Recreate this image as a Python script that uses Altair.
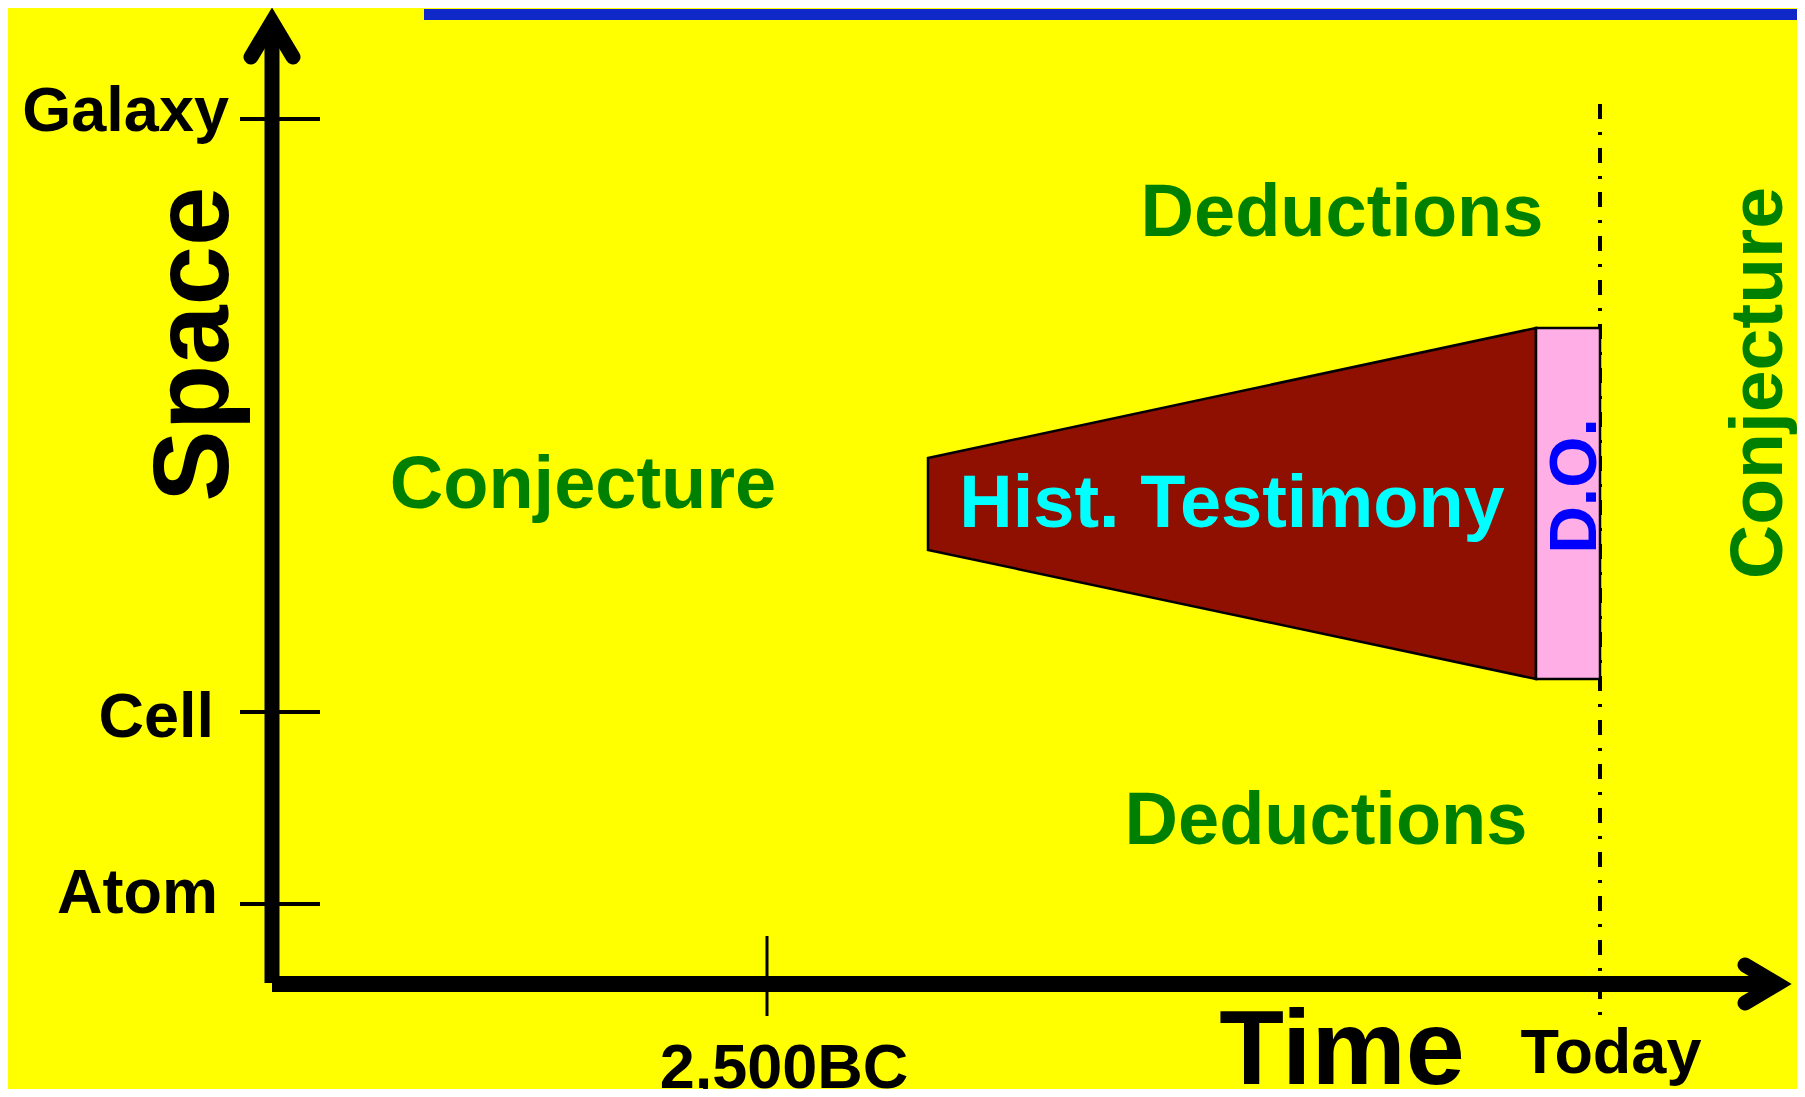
import altair as alt
import pandas as pd

# ---- canvas (schematic diagram coordinates, page pixels) ----
W, H = 1789, 1081
OFF = 8

# ---- data ----
space_labels = ["Galaxy", "Cell", "Atom"]
space_levels = [119, 712, 904]

time_labels = ["2,500BC"]
time_levels = [767]
today_level = 1600

hist_time = [928, 1536]
hist_top = [458, 328]
hist_bottom = [550, 679]

do_time = [1536, 1600]
do_range = [328, 679]

region_labels = ["Deductions", "Deductions", "Conjecture"]
region_x = [1342, 1326, 583]
region_y = [236, 844, 508]

# axes geometry (schematic)
origin_x, origin_y = 272, 984
space_top = 22
time_end = 1777
arrow_y = [(251, 57), (272, 22), (293, 57)]
arrow_x = [(1745, 965), (1777, 984), (1745, 1003)]
banner = (424, 1805, 14.5)

FONT = "Liberation Sans"

xs = alt.Scale(domain=[OFF, OFF + W], nice=False, zero=False)
ys = alt.Scale(domain=[OFF, OFF + H], nice=False, zero=False, reverse=True)


def X(f):
    return alt.X(f"{f}:Q", scale=xs, axis=None)


def Y(f):
    return alt.Y(f"{f}:Q", scale=ys, axis=None)


def text_layer(texts, xv, yv, size, color, angle=0, align="center"):
    df = pd.DataFrame({"label": texts, "x": xv, "y": yv})
    return alt.Chart(df).mark_text(
        font=FONT, fontWeight="bold", fontSize=size, color=color,
        angle=angle, align=align, baseline="alphabetic",
    ).encode(x=X("x"), y=Y("y"), text="label:N")


blue = alt.Chart(pd.DataFrame({"x": [banner[0]], "x2": [banner[1]], "y": [banner[2]]})).mark_rule(
    color="#1028c8", strokeWidth=11
).encode(x=X("x"), x2="x2", y=Y("y"))

dash = alt.Chart(pd.DataFrame({"x": [today_level], "y": [104], "y2": [1018]})).mark_rule(
    color="black", strokeWidth=4, strokeDash=[15, 13, 3, 13]
).encode(x=X("x"), y=Y("y"), y2="y2")

wedge = alt.Chart(pd.DataFrame({"t": hist_time, "top": hist_top, "bot": hist_bottom})).mark_area(
    fill="#8f1000", stroke="black", strokeWidth=2.5, opacity=1, interpolate="linear"
).encode(x=X("t"), y=Y("top"), y2="bot")

do_rect = alt.Chart(pd.DataFrame({"x": [do_time[0]], "x2": [do_time[1]],
                                  "y": [do_range[0]], "y2": [do_range[1]]})).mark_rect(
    fill="#ffaee6", stroke="black", strokeWidth=2.5
).encode(x=X("x"), x2="x2", y=Y("y"), y2="y2")

space_ticks = alt.Chart(pd.DataFrame({"lab": space_labels, "y": space_levels})).mark_rule(
    color="black", strokeWidth=4
).encode(x=alt.X("a:Q", scale=xs, axis=None), x2="b:Q", y=Y("y")).transform_calculate(a="240", b="320")

time_ticks = alt.Chart(pd.DataFrame({"lab": time_labels, "x": time_levels})).mark_rule(
    color="black", strokeWidth=3
).encode(x=X("x"), y=alt.Y("a:Q", scale=ys, axis=None), y2="b:Q").transform_calculate(a="936", b="1016")

y_axis = alt.Chart(pd.DataFrame({"x": [origin_x], "y": [origin_y - 1], "y2": [space_top]})).mark_rule(
    color="black", strokeWidth=15, strokeCap="butt"
).encode(x=X("x"), y=Y("y"), y2="y2")

x_axis = alt.Chart(pd.DataFrame({"x": [origin_x], "x2": [time_end], "y": [origin_y]})).mark_rule(
    color="black", strokeWidth=16, strokeCap="butt"
).encode(x=X("x"), x2="x2", y=Y("y"))

arrows_df = pd.DataFrame(
    [{"axis": "space", "i": i, "x": p[0], "y": p[1]} for i, p in enumerate(arrow_y)]
    + [{"axis": "time", "i": i, "x": p[0], "y": p[1]} for i, p in enumerate(arrow_x)]
)
arrows = alt.Chart(arrows_df).mark_line(
    color="black", strokeWidth=15, strokeCap="round", strokeJoin="miter", strokeMiterLimit=10
).encode(x=X("x"), y=Y("y"), detail="axis:N", order="i:Q")

texts = [
    text_layer(space_labels, [229, 214, 218], [131, 737, 913], 63, "black", align="right"),
    text_layer(["Space"], [228], [344], 107, "black", angle=270),
    text_layer(time_labels, [784], [1088], 63, "black"),
    text_layer(["Time"], [1342], [1084], 106, "black"),
    text_layer(["Today"], [1611], [1073], 63, "black"),
    text_layer(region_labels, region_x, region_y, 74, "#008000"),
    text_layer(["Conjecture"], [1782], [383], 75, "#008000", angle=270),
    text_layer(["Hist. Testimony"], [1232], [527], 74, "#00ffff"),
    text_layer(["D.O."], [1596], [486], 66, "#0000ff", angle=270),
]

chart = alt.layer(
    blue, dash, wedge, do_rect, space_ticks, time_ticks, y_axis, x_axis, arrows, *texts
).properties(
    width=W, height=H, background="#ffff00",
    autosize=alt.AutoSizeParams(type="none"), padding=0,
).configure_view(stroke=None, fill="#ffff00")

chart.save("out.html", embed_options={"renderer": "svg", "actions": False})
